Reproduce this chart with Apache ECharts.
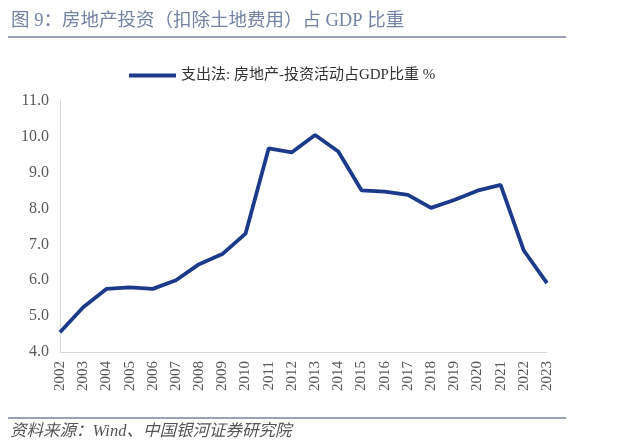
<!DOCTYPE html>
<html><head><meta charset="utf-8">
<script src="https://cdn.jsdelivr.net/npm/echarts@6/dist/echarts.min.js"></script>
<style>html,body{margin:0;padding:0;background:#fff}#c{width:640px;height:446px}</style>
</head><body><div id="c"></div>
<script>
const years = ['2002','2003','2004','2005','2006','2007','2008','2009','2010','2011','2012','2013','2014','2015','2016','2017','2018','2019','2020','2021','2022','2023'];
const shareOfGDP = [4.55,5.25,5.76,5.80,5.76,6.00,6.45,6.73,7.30,9.68,9.57,10.05,9.59,8.51,8.47,8.38,8.02,8.24,8.50,8.66,6.83,5.92];
const seriesName = '支出法: 房地产-投资活动占GDP比重 %';
const titleText = '图 9：房地产投资（扣除土地费用）占 GDP 比重';
const sourceText = '资料来源：Wind、中国银河证券研究院';

const serif = '"Liberation Serif","Noto Sans CJK SC",serif';
const chart = echarts.init(document.getElementById('c'));
chart.setOption({
  animation: false,
  backgroundColor: '#fff',
  title: {
    text: titleText, left: 6, top: 7,
    textStyle: {fontFamily: serif, fontSize: 18.5, fontWeight: 'normal', color: '#7383a3'}
  },
  graphic: [
    {type: 'line', shape: {x1: 8, y1: 37, x2: 566, y2: 37}, style: {stroke: '#9aa3b5', lineWidth: 2}},
    {type: 'line', shape: {x1: 8, y1: 418, x2: 566, y2: 418}, style: {stroke: '#9aa3b5', lineWidth: 2}},
    {type: 'text', left: 10, top: 423, style: {text: sourceText, font: 'italic 16.5px ' + serif, fill: '#555'}}
  ],
  legend: {
    data: [seriesName], left: 124, top: 63, itemWidth: 47, itemHeight: 4, itemGap: 4,
    icon: 'rect',
    textStyle: {fontFamily: serif, fontSize: 15, color: '#333'}
  },
  grid: {left: 60, right: 93, top: 101, bottom: 94},
  xAxis: {
    type: 'category', data: years, boundaryGap: false,
    axisLine: {lineStyle: {color: '#d9d9d9', width: 1}},
    axisTick: {show: false},
    axisLabel: {rotate: 90, fontFamily: serif, fontSize: 15, color: '#595959', margin: 9, interval: 0}
  },
  yAxis: {
    type: 'value', min: 4, max: 11, interval: 1,
    axisLine: {show: true, lineStyle: {color: '#d9d9d9', width: 1}},
    axisTick: {show: false},
    splitLine: {show: false},
    axisLabel: {fontFamily: serif, fontSize: 16, color: '#595959', margin: 11, formatter: v => v.toFixed(1)}
  },
  series: [{
    name: seriesName, type: 'line', data: shareOfGDP, symbol: 'none',
    lineStyle: {color: '#1b3a8a', width: 3.8}, itemStyle: {color: '#1b3a8a'}
  }]
});
</script></body></html>
